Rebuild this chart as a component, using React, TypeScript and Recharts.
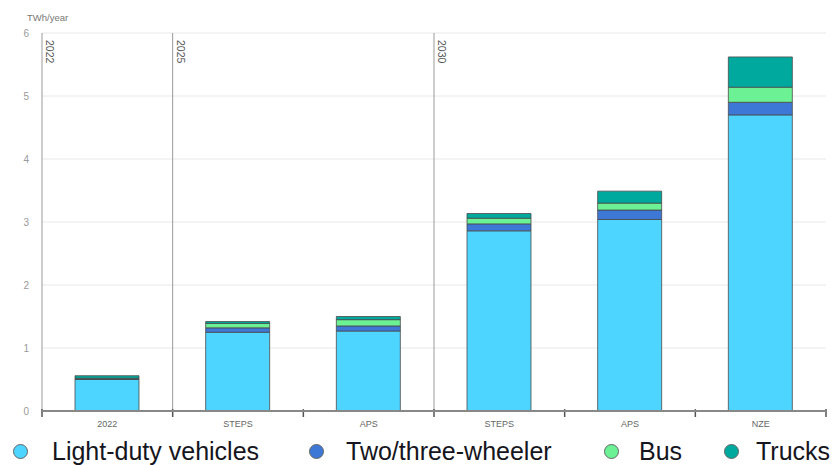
import {
  Bar,
  BarChart,
  CartesianGrid,
  Label,
  ReferenceLine,
  XAxis,
  YAxis,
} from "recharts";

const categories = ["2022", "STEPS", "APS", "STEPS", "APS", "NZE"];
const lightDuty = [0.5, 1.25, 1.27, 2.86, 3.04, 4.7];
const twoThree = [0.01, 0.07, 0.08, 0.11, 0.15, 0.2];
const bus = [0.01, 0.07, 0.1, 0.09, 0.11, 0.24];
const trucks = [0.04, 0.03, 0.05, 0.075, 0.19, 0.48];

const periodStarts = [0, 1, 3];
const periodLabels = ["2022", "2025", "2030"];
const boundaries = [0, 1, 2, 3, 4, 5, 6];
const yTicks = [0, 1, 2, 3, 4, 5, 6];

const series = [
  { key: "ldv", name: "Light-duty vehicles", color: "#4dd4ff" },
  { key: "twoThree", name: "Two/three-wheeler", color: "#3d78d6" },
  { key: "bus", name: "Bus", color: "#6cf294" },
  { key: "trucks", name: "Trucks", color: "#00a99d" },
];

// legend placement (circle left, text left)
const legendPos = [
  [13, 52],
  [309, 346],
  [604, 639],
  [724, 756],
];

const data = categories.map((name, i) => ({
  name,
  pos: i + 0.5,
  ldv: lightDuty[i],
  twoThree: twoThree[i],
  bus: bus[i],
  trucks: trucks[i],
}));

const FONT = '"Liberation Sans", Arial, sans-serif';

const PeriodLabel = ({ viewBox, value }: any) => {
  const x = viewBox.x + 4;
  const y = viewBox.y + 7;
  return (
    <text
      x={x}
      y={y}
      transform={`rotate(90 ${x} ${y})`}
      fontSize={10.5}
      fill="#555"
      fontFamily={FONT}
    >
      {value}
    </text>
  );
};

const UnitLabel = ({ viewBox }: any) => (
  <text
    x={viewBox.x + 27}
    y={viewBox.y - 12}
    fontSize={9.5}
    fill="#777"
    fontFamily={FONT}
  >
    TWh/year
  </text>
);

export default function App() {
  return (
    <div
      style={{
        position: "absolute",
        left: 0,
        top: 0,
        width: 834,
        height: 465,
        background: "#fff",
        fontFamily: FONT,
      }}
    >
      <BarChart
        width={834}
        height={465}
        data={data}
        margin={{ top: 33, right: 8, left: 0, bottom: 34 }}
        barSize={64}
      >
        <CartesianGrid vertical={false} stroke="#e8e8e8" />
        <XAxis
          dataKey="name"
          height={20}
          axisLine={{ stroke: "#888", strokeWidth: 2 }}
          tickLine={false}
          tickSize={0}
          tickMargin={10}
          tick={{ fontSize: 9, fill: "#666", fontFamily: FONT }}
          interval={0}
        />
        <XAxis
          xAxisId="pos"
          dataKey="pos"
          type="number"
          domain={[0, 6]}
          allowDataOverflow
          hide
        />
        <YAxis
          width={42}
          domain={[0, 6]}
          ticks={yTicks}
          axisLine={false}
          tickLine={false}
          tickSize={0}
          tickMargin={13}
          tick={{ fontSize: 10, fill: "#999", fontFamily: FONT }}
        >
          <Label content={<UnitLabel />} />
        </YAxis>
        {series.map((s) => (
          <Bar
            key={s.key}
            dataKey={s.key}
            name={s.name}
            stackId="a"
            fill={s.color}
            stroke="#4a4a4a"
            strokeWidth={0.8}
            isAnimationActive={false}
          />
        ))}
        {periodStarts.map((p, i) => (
          <ReferenceLine
            key={"p" + p}
            xAxisId="pos"
            x={p}
            stroke="#9a9a9a"
            strokeWidth={1}
            label={<PeriodLabel value={periodLabels[i]} />}
          />
        ))}
        {boundaries.map((b) => (
          <ReferenceLine
            key={"b" + b}
            xAxisId="pos"
            ifOverflow="visible"
            segment={[
              { x: b, y: 0.03 },
              { x: b, y: -0.095 },
            ]}
            stroke="#555"
            strokeWidth={1.5}
          />
        ))}
      </BarChart>
      {series.map((s, i) => (
        <div key={s.key}>
          <span
            style={{
              position: "absolute",
              left: legendPos[i][0],
              top: 444,
              width: 13,
              height: 13,
              borderRadius: "50%",
              background: s.color,
              border: "1px solid #666",
            }}
          />
          <span
            style={{
              position: "absolute",
              left: legendPos[i][1],
              top: 437,
              fontSize: 25,
              lineHeight: "28px",
              color: "#151520",
              whiteSpace: "nowrap",
            }}
          >
            {s.name}
          </span>
        </div>
      ))}
    </div>
  );
}
